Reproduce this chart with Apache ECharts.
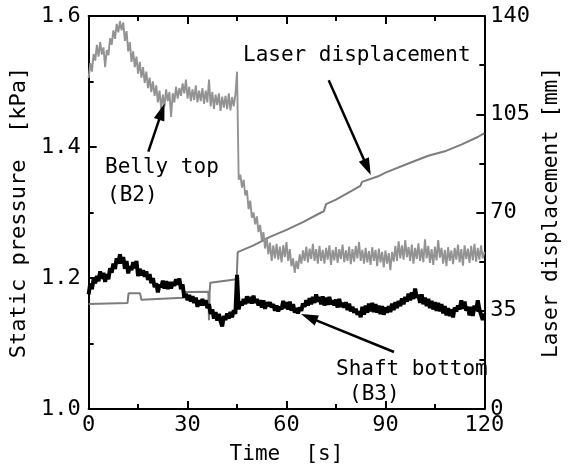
<!DOCTYPE html>
<html><head><meta charset="utf-8">
<script src="https://cdn.jsdelivr.net/npm/echarts@6/dist/echarts.min.js"></script>
<style>html,body{margin:0;padding:0;background:#fff}#c{width:570px;height:470px}</style>
</head><body><div id="c"></div>
<script>
// sampling step of the pressure records (s)
const timeStep = 0.5;

// Belly top (B2) static pressure [kPa], t = 0 ... 120 s every 0.5 s
const bellyTop = [
1.505,1.528,1.515,1.542,1.532,1.556,1.538,1.560,1.541,1.552,
1.522,1.548,1.540,1.566,1.556,1.578,1.565,1.588,1.575,1.592,
1.578,1.590,1.562,1.577,1.546,1.560,1.530,1.546,1.522,1.538,
1.512,1.530,1.506,1.522,1.498,1.515,1.490,1.506,1.484,1.500,
1.478,1.494,1.468,1.486,1.458,1.480,1.462,1.488,1.470,1.484,
1.446,1.482,1.468,1.492,1.474,1.490,1.478,1.497,1.482,1.503,
1.474,1.492,1.470,1.488,1.472,1.494,1.468,1.486,1.470,1.490,
1.466,1.486,1.468,1.503,1.462,1.484,1.458,1.480,1.464,1.482,
1.455,1.477,1.460,1.478,1.458,1.482,1.456,1.476,1.462,1.480,
1.515,1.350,1.358,1.338,1.350,1.326,1.334,1.305,1.318,1.292,
1.300,1.282,1.294,1.270,1.281,1.258,1.270,1.245,1.262,1.236,
1.254,1.226,1.250,1.230,1.252,1.228,1.248,1.224,1.250,1.232,
1.255,1.226,1.244,1.218,1.230,1.208,1.226,1.214,1.236,1.222,
1.242,1.226,1.248,1.224,1.245,1.229,1.252,1.226,1.244,1.222,
1.249,1.226,1.243,1.222,1.246,1.228,1.250,1.220,1.243,1.227,
1.247,1.223,1.244,1.229,1.251,1.224,1.242,1.226,1.248,1.221,
1.244,1.225,1.249,1.230,1.255,1.226,1.243,1.222,1.246,1.224,
1.241,1.220,1.247,1.226,1.243,1.218,1.245,1.224,1.240,1.216,
1.242,1.222,1.238,1.212,1.240,1.225,1.249,1.226,1.256,1.230,
1.250,1.228,1.258,1.232,1.247,1.226,1.251,1.222,1.246,1.229,
1.253,1.226,1.245,1.224,1.259,1.230,1.249,1.223,1.244,1.220,
1.248,1.227,1.258,1.231,1.246,1.222,1.243,1.218,1.247,1.226,
1.242,1.221,1.246,1.228,1.251,1.224,1.244,1.219,1.250,1.229,
1.245,1.223,1.249,1.227,1.252,1.225,1.246,1.228,1.250,1.230,
1.240
];

// Shaft bottom (B3) static pressure [kPa], t = 0 ... 120 s every 0.5 s
const shaftBottom = [
1.175,1.192,1.183,1.198,1.192,1.203,1.195,1.210,1.199,1.208,
1.194,1.206,1.198,1.215,1.208,1.222,1.214,1.230,1.222,1.236,
1.222,1.232,1.214,1.226,1.207,1.218,1.212,1.224,1.215,1.226,
1.203,1.214,1.204,1.212,1.202,1.210,1.197,1.206,1.192,1.200,
1.186,1.192,1.178,1.190,1.186,1.196,1.184,1.195,1.183,1.194,
1.184,1.194,1.188,1.198,1.190,1.199,1.183,1.190,1.170,1.176,
1.166,1.174,1.164,1.172,1.162,1.170,1.156,1.166,1.158,1.168,
1.158,1.166,1.154,1.160,1.145,1.152,1.138,1.148,1.135,1.145,
1.134,1.126,1.142,1.136,1.146,1.138,1.148,1.140,1.151,1.145,
1.205,1.152,1.164,1.158,1.168,1.160,1.172,1.162,1.171,1.161,
1.173,1.162,1.168,1.158,1.166,1.155,1.166,1.153,1.163,1.157,
1.163,1.155,1.160,1.150,1.158,1.149,1.156,1.152,1.165,1.154,
1.163,1.152,1.164,1.150,1.160,1.147,1.154,1.146,1.155,1.150,
1.161,1.156,1.166,1.158,1.169,1.160,1.171,1.162,1.175,1.164,
1.171,1.160,1.172,1.158,1.170,1.159,1.171,1.160,1.166,1.158,
1.167,1.155,1.168,1.156,1.162,1.155,1.163,1.151,1.161,1.149,
1.156,1.147,1.153,1.144,1.149,1.140,1.156,1.144,1.158,1.147,
1.161,1.149,1.162,1.148,1.160,1.147,1.158,1.145,1.157,1.144,
1.155,1.147,1.157,1.148,1.161,1.151,1.163,1.154,1.165,1.157,
1.169,1.160,1.171,1.164,1.176,1.166,1.178,1.168,1.184,1.170,
1.174,1.162,1.175,1.160,1.170,1.157,1.168,1.154,1.165,1.152,
1.163,1.150,1.162,1.149,1.160,1.146,1.157,1.143,1.154,1.142,
1.152,1.140,1.155,1.149,1.158,1.152,1.166,1.153,1.164,1.150,
1.156,1.143,1.156,1.142,1.158,1.150,1.166,1.152,1.154,1.136,
1.146
];

// Laser displacement [mm]
const laserTime = [0,11.8,12.1,15.6,16.0,28.6,29.0,36.3,36.5,36.7,36.9,44.9,45.2,50,55,60,65,70.5,71.3,72.0,75,80,82.4,82.9,87.8,90,97.7,103,108,113,118,120];
const laserMM   = [37.4,37.8,41.2,41.2,38.9,39.6,41.7,41.8,31.6,41.8,45.0,46.2,55.9,58.3,61.3,63.8,66.6,70.0,70.4,73.0,74.6,77.9,79.5,80.9,82.9,84.2,87.8,90.2,91.8,94.2,96.9,98.3];

// annotation texts
const labelLaser = 'Laser displacement';
const labelBelly = ['Belly top', '(B2)'];
const labelShaft = ['Shaft bottom', '(B3)'];

const FONT = "'DejaVu Sans Mono', 'Liberation Mono', monospace";

const bellyData = bellyTop.map((v, i) => [i * timeStep, v]);
const shaftData = shaftBottom.map((v, i) => [i * timeStep, v]);
const laserData = laserTime.map((t, i) => [t, laserMM[i]]);

const axisLine = {show: true, onZero: false, lineStyle: {color: '#000', width: 2}};
const tick = {show: true, inside: true, length: 8, lineStyle: {color: '#000', width: 2}};
const minor = {show: true, splitNumber: 2, length: 5, lineStyle: {color: '#000', width: 2}};
const lblStyle = {fontFamily: FONT, fontSize: 22, color: '#000'};

const arrowLine = (a, b) => [{coord: a}, {coord: b}];

const chart = echarts.init(document.getElementById('c'), null, {renderer: 'canvas'});
chart.setOption({
  animation: false,
  backgroundColor: '#fff',
  grid: {left: 88, right: 83, top: 16, bottom: 61},
  xAxis: [
    {type: 'value', min: 0, max: 120, interval: 30, position: 'bottom',
     axisLine, axisTick: tick, minorTick: minor, splitLine: {show: false}, minorSplitLine: {show: false},
     axisLabel: Object.assign({margin: 5}, lblStyle),
     name: 'Time  [s]', nameLocation: 'middle', nameGap: 35,
     nameTextStyle: {fontFamily: FONT, fontSize: 21, color: '#000'}},
    {type: 'value', min: 0, max: 120, interval: 30, position: 'top',
     axisLine, axisTick: tick, minorTick: minor, splitLine: {show: false},
     axisLabel: {show: false}}
  ],
  yAxis: [
    {type: 'value', min: 1.0, max: 1.6, interval: 0.2, position: 'left',
     axisLine, axisTick: tick, minorTick: minor, splitLine: {show: false},
     axisLabel: Object.assign({margin: 8, formatter: v => v.toFixed(1)}, lblStyle),
     name: 'Static pressure  [kPa]', nameLocation: 'middle', nameGap: 39,
     nameTextStyle: {fontFamily: FONT, fontSize: 22, color: '#000'}},
    {type: 'value', min: 0, max: 140, interval: 35, position: 'right',
     axisLine, axisTick: tick, minorTick: minor, splitLine: {show: false},
     axisLabel: Object.assign({margin: 6}, lblStyle),
     name: 'Laser displacement [mm]', nameLocation: 'middle', nameGap: 46,
     nameTextStyle: {fontFamily: FONT, fontSize: 21, color: '#000'}}
  ],
  series: [
    {name: 'Laser displacement', type: 'line', yAxisIndex: 1, data: laserData,
     showSymbol: false, lineStyle: {color: '#7c7c7c', width: 2}, z: 2},
    {name: 'Belly top (B2)', type: 'line', yAxisIndex: 0, data: bellyData,
     showSymbol: false, lineStyle: {color: '#939393', width: 1.9}, z: 3},
    {name: 'Shaft bottom (B3)', type: 'line', yAxisIndex: 0, data: shaftData,
     showSymbol: false, lineStyle: {color: '#000', width: 4}, z: 4,
     markLine: {
       silent: true, symbol: ['none', 'triangle'], symbolSize: [11, 17],
       label: {show: false},
       lineStyle: {color: '#000', width: 2.5, type: 'solid'},
       data: [
         arrowLine([18.1, 1.393], [22.2, 1.454]),
         arrowLine([72.8, 1.502], [84.5, 1.369]),
         arrowLine([92.6, 1.087], [66.8, 1.140])
       ]
     }}
  ],
  graphic: [
    {type: 'text', x: 243, y: 56, style: {text: labelLaser, fontFamily: FONT, fontSize: 21, fill: '#000', verticalAlign: 'middle'}},
    {type: 'text', x: 105, y: 168, style: {text: labelBelly[0], fontFamily: FONT, fontSize: 21, fill: '#000', verticalAlign: 'middle'}},
    {type: 'text', x: 107, y: 196, style: {text: labelBelly[1], fontFamily: FONT, fontSize: 21, fill: '#000', verticalAlign: 'middle'}},
    {type: 'text', x: 336, y: 370, style: {text: labelShaft[0], fontFamily: FONT, fontSize: 21, fill: '#000', verticalAlign: 'middle'}},
    {type: 'text', x: 349, y: 395, style: {text: labelShaft[1], fontFamily: FONT, fontSize: 21, fill: '#000', verticalAlign: 'middle'}}
  ]
});
</script>
</body></html>
